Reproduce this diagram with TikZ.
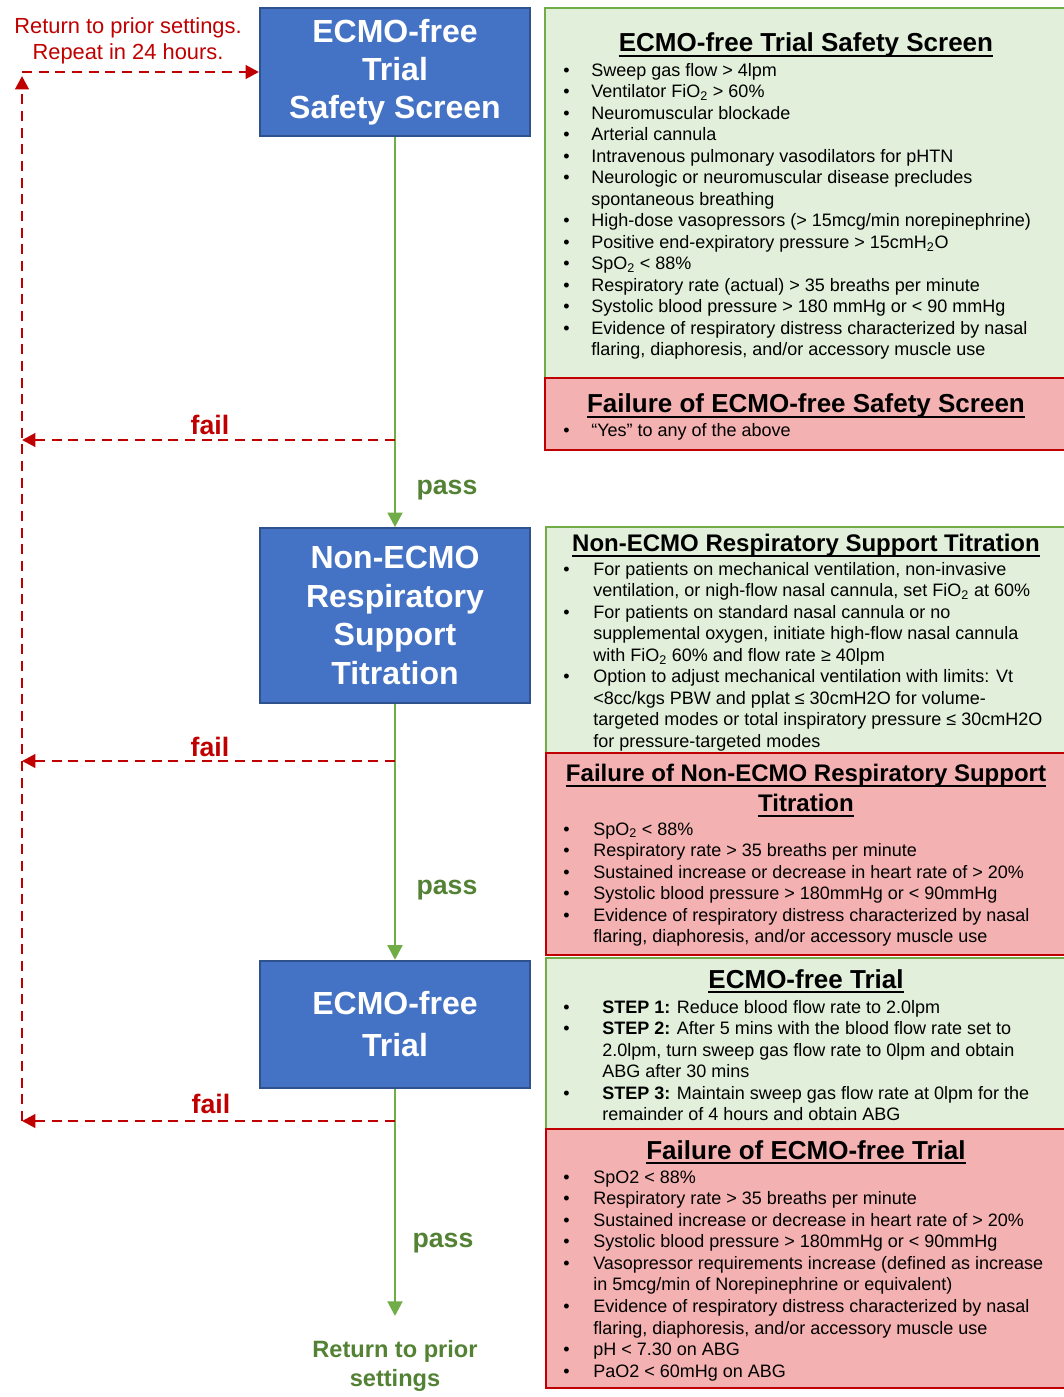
\documentclass[tikz,border=0pt]{standalone}
\usepackage{fontspec}
\setmainfont{Liberation Sans}
\usetikzlibrary{arrows.meta}
\definecolor{boxblue}{HTML}{4472C4}
\definecolor{boxblueedge}{HTML}{2F528F}
\definecolor{panelgreen}{HTML}{E2EFDA}
\definecolor{edgegreen}{HTML}{70AD47}
\definecolor{panelred}{HTML}{F4B1B1}
\definecolor{edgered}{HTML}{C00000}
\definecolor{passgreen}{HTML}{548235}
\newlength\bulletw
\newcommand\bu{\makebox[\bulletw][l]{\textbullet}}
\newcommand\ct{\hspace*{\bulletw}}
\newcommand\msub[1]{\textsubscript{#1}}
\newcommand\titleline[1]{\draw[line width=1.3pt] ([yshift=-3pt]#1.base west) -- ([yshift=-3pt]#1.base east);}
\tikzset{
  bluebox/.style={draw=boxblueedge, line width=1.5pt, fill=boxblue, text=white,
    font=\bfseries, align=center, inner sep=0pt,
    minimum width=202.5pt},
  gpanel/.style={draw=edgegreen, line width=1.8pt, fill=panelgreen},
  rpanel/.style={draw=edgered, line width=1.8pt, fill=panelred},
  ptitle/.style={inner sep=0pt, anchor=base, font=\fontsize{19.5}{22.5}\selectfont\bfseries},
  ptitlesmall/.style={inner sep=0pt, anchor=base, font=\fontsize{18}{22.5}\selectfont\bfseries},
  bodytext/.style={inner sep=0pt, anchor=base west, font=\fontsize{13.5}{16.15}\selectfont},
  passline/.style={draw=edgegreen, line width=2.2pt, -{Triangle[width=11pt,length=11pt]}},
  failline/.style={draw=edgered, line width=2.2pt, dash pattern=on 7.5pt off 5pt, -{Triangle[width=10pt,length=10pt]}},
  faillabel/.style={text=edgered, font=\fontsize{20}{24}\selectfont\bfseries, anchor=base, inner sep=0pt},
  passlabel/.style={text=passgreen, font=\fontsize{20}{24}\selectfont\bfseries, anchor=base, inner sep=0pt},
}
\begin{document}
\begin{tikzpicture}[x=0.75pt, y=-0.75pt]
\useasboundingbox[fill=white] (0,0) rectangle (1064,1397);

% ---------- right panels ----------
\draw[gpanel] (545,8) rectangle (1066,378);
\draw[rpanel] (545,378) rectangle (1066,450);
\draw[gpanel] (546,527) rectangle (1066,753);
\draw[rpanel] (546,753) rectangle (1066,955);
\draw[gpanel] (546,958) rectangle (1066,1129);
\draw[rpanel] (546,1129) rectangle (1066,1388);

% panel A
\node[ptitle] (tA) at (806,51.7) {ECMO-free Trial Safety Screen};
\titleline{tA}
\setlength\bulletw{21pt}
\node[bodytext] (bA) at (563,76) {\begin{tabular}[t]{@{}l@{}}
\bu Sweep gas flow > 4lpm\\
\bu Ventilator FiO\msub{2} > 60\%\\
\bu Neuromuscular blockade\\
\bu Arterial cannula\\
\bu Intravenous pulmonary vasodilators for pHTN\\
\bu Neurologic or neuromuscular disease precludes\\
\ct spontaneous breathing\\
\bu High-dose vasopressors (> 15mcg/min norepinephrine)\\
\bu Positive end-expiratory pressure > 15cmH\msub{2}O\\
\bu SpO\msub{2} < 88\%\\
\bu Respiratory rate (actual) > 35 breaths per minute\\
\bu Systolic blood pressure > 180 mmHg or < 90 mmHg\\
\bu Evidence of respiratory distress characterized by nasal\\
\ct flaring, diaphoresis, and/or accessory muscle use
\end{tabular}};

% panel B
\node[ptitle] (tB) at (806,412.7) {Failure of ECMO-free Safety Screen};
\titleline{tB}
\node[bodytext] (bB) at (563,436.7) {\begin{tabular}[t]{@{}l@{}}
\bu “Yes” to any of the above
\end{tabular}};

% panel C
\node[ptitlesmall] (tC) at (806,551.7) {Non-ECMO Respiratory Support Titration};
\titleline{tC}
\setlength\bulletw{22.5pt}
\node[bodytext] (bC) at (563,575) {\begin{tabular}[t]{@{}l@{}}
\bu For patients on mechanical ventilation, non-invasive\\
\ct ventilation, or nigh-flow nasal cannula, set FiO\msub{2} at 60\%\\
\bu For patients on standard nasal cannula or no\\
\ct supplemental oxygen, initiate high-flow nasal cannula\\
\ct with FiO\msub{2} 60\% and flow rate ≥ 40lpm\\
\bu Option to adjust mechanical ventilation with limits: Vt\\
\ct <8cc/kgs PBW and pplat ≤ 30cmH2O for volume-\\
\ct targeted modes or total inspiratory pressure ≤ 30cmH2O\\
\ct for pressure-targeted modes
\end{tabular}};

% panel D
\node[ptitlesmall] (tD1) at (806,781.7) {Failure of Non-ECMO Respiratory Support};
\titleline{tD1}
\node[ptitlesmall] (tD2) at (806,811.7) {Titration};
\titleline{tD2}
\node[bodytext] (bD) at (563,835) {\begin{tabular}[t]{@{}l@{}}
\bu SpO\msub{2} < 88\%\\
\bu Respiratory rate > 35 breaths per minute\\
\bu Sustained increase or decrease in heart rate of > 20\%\\
\bu Systolic blood pressure > 180mmHg or < 90mmHg\\
\bu Evidence of respiratory distress characterized by nasal\\
\ct flaring, diaphoresis, and/or accessory muscle use
\end{tabular}};

% panel E
\node[ptitle] (tE) at (806,988.3) {ECMO-free Trial};
\titleline{tE}
\setlength\bulletw{29.25pt}
\node[bodytext] (bE) at (563,1013.3) {\begin{tabular}[t]{@{}l@{}}
\bu \textbf{STEP 1:} Reduce blood flow rate to 2.0lpm\\
\bu \textbf{STEP 2:} After 5 mins with the blood flow rate set to\\
\ct 2.0lpm, turn sweep gas flow rate to 0lpm and obtain\\
\ct ABG after 30 mins\\
\bu \textbf{STEP 3:} Maintain sweep gas flow rate at 0lpm for the\\
\ct remainder of 4 hours and obtain ABG
\end{tabular}};

% panel F
\node[ptitle] (tF) at (806,1159) {Failure of ECMO-free Trial};
\titleline{tF}
\setlength\bulletw{22.5pt}
\node[bodytext] (bF) at (563,1183.3) {\begin{tabular}[t]{@{}l@{}}
\bu SpO2 < 88\%\\
\bu Respiratory rate > 35 breaths per minute\\
\bu Sustained increase or decrease in heart rate of > 20\%\\
\bu Systolic blood pressure > 180mmHg or < 90mmHg\\
\bu Vasopressor requirements increase (defined as increase\\
\ct in 5mcg/min of Norepinephrine or equivalent)\\
\bu Evidence of respiratory distress characterized by nasal\\
\ct flaring, diaphoresis, and/or accessory muscle use\\
\bu pH < 7.30 on ABG\\
\bu PaO2 < 60mHg on ABG
\end{tabular}};

% ---------- flow boxes ----------
\node[bluebox, minimum height=96pt, font=\fontsize{24}{28.5}\selectfont\bfseries] (b1) at (395,72)
  {ECMO-free\\Trial\\Safety Screen};
\node[bluebox, minimum height=131pt, font=\fontsize{24}{29}\selectfont\bfseries] (b2) at (395,615.5)
  {Non-ECMO\\Respiratory\\Support\\Titration};
\node[bluebox, minimum height=95.5pt, font=\fontsize{24}{31.5}\selectfont\bfseries] (b3) at (395,1024.5)
  {ECMO-free\\Trial};

\coordinate (pend) at (395,1316);
\node[text=passgreen, font=\fontsize{17.7}{21.75}\selectfont\bfseries, align=center, inner sep=0pt]
  (ret) at (395,1366) {Return to prior\\settings};

\draw[passline] (b1) -- (b2);
\draw[passline] (b2) -- (b3);
\draw[passline] (b3) -- (pend);

\node[passlabel] (p1) at (447,494) {pass};
\node[passlabel] (p2) at (447,894) {pass};
\node[passlabel] (p3) at (443,1247) {pass};

% ---------- fail paths ----------
\coordinate (f1) at (395,440);
\coordinate (f2) at (395,761);
\coordinate (f3) at (395,1121);
\coordinate (l1) at (22,440);
\coordinate (l2) at (22,761);
\coordinate (l3) at (22,1121);
\coordinate (tu) at (22,76);
\coordinate (tc) at (22,72);

\draw[failline] (f1) -- (l1);
\draw[failline] (f2) -- (l2);
\draw[failline] (f3) -- (l3);
\draw[failline] (l3) -- (tu);
\draw[failline] (tc) -- (b1.west);

\node[faillabel] (fl1) at (210,434) {fail};
\node[faillabel] (fl2) at (210,756) {fail};
\node[faillabel] (fl3) at (211,1113) {fail};

\node[text=edgered, font=\fontsize{16.4}{19.5}\selectfont, align=center, inner sep=0pt]
  (note) at (128,41) {Return to prior settings.\\Repeat in 24 hours.};
\end{tikzpicture}
\end{document}
